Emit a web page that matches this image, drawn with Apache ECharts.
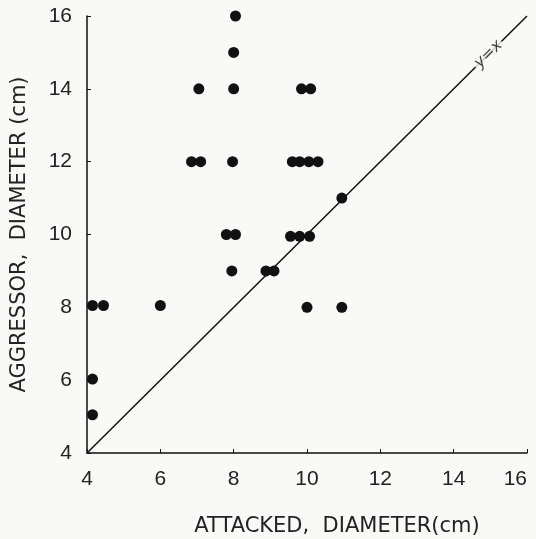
<!DOCTYPE html>
<html>
<head>
<meta charset="utf-8">
<script src="https://cdn.jsdelivr.net/npm/echarts@6/dist/echarts.min.js"></script>
<style>
  html, body { margin: 0; padding: 0; background: #f9f9f7; }
  #main { width: 536px; height: 539px; }
</style>
</head>
<body>
<div id="main"></div>
<script>
// attacked diameter (x) vs aggressor diameter (y), cm
var attacked = [8.05, 8, 7.05, 8, 9.85, 10.1,
                6.85, 7.1, 7.97, 9.6, 9.8, 10.05, 10.3,
                10.95,
                7.8, 8.05, 9.55, 9.8, 10.07,
                7.95, 8.88, 9.1,
                4.15, 4.45, 6.0, 10.0, 10.95,
                4.15, 4.15];
var aggressor = [16, 15, 14, 14, 14, 14,
                 12, 12, 12, 12, 12, 12, 12,
                 11,
                 10, 10, 9.95, 9.95, 9.95,
                 9, 9, 9,
                 8.05, 8.05, 8.05, 8, 8,
                 6.03, 5.05];
var diagonal = [[4, 4], [16, 16]];
var diagLabelAt = [14.95, 14.95];
var axisTicks = [4, 6, 8, 10, 12, 14, 16];

var bg = '#f9f9f7';
var ink = '#111111';
var font = 'DejaVu Sans';
var numFont = 'Liberation Sans';

var points = [];
for (var i = 0; i < attacked.length; i++) {
    points.push([attacked[i], aggressor[i]]);
}

var chart = echarts.init(document.getElementById('main'));
var option = {
    backgroundColor: bg,
    animation: false,
    grid: { left: 87, right: 9, top: 16, bottom: 86, outerBoundsMode: 'none', containLabel: false },
    xAxis: {
        type: 'value',
        min: axisTicks[0],
        max: axisTicks[axisTicks.length - 1],
        interval: 2,
        name: 'ATTACKED,  DIAMETER(cm)',
        nameLocation: 'middle',
        nameGap: 63,
        nameTextStyle: { color: '#222', fontFamily: font, fontSize: 21, padding: [0, 0, 0, 60] },
        axisLine: { lineStyle: { color: ink, width: 1.5 } },
        axisTick: { inside: true, length: 4, lineStyle: { color: ink } },
        axisLabel: { color: '#222', fontFamily: numFont, fontSize: 21, margin: 16, alignMaxLabel: 'right' },
        splitLine: { show: false }
    },
    yAxis: {
        type: 'value',
        min: axisTicks[0],
        max: axisTicks[axisTicks.length - 1],
        interval: 2,
        name: 'AGGRESSOR,  DIAMETER (cm)',
        nameLocation: 'middle',
        nameGap: 57,
        nameTextStyle: { color: '#222', fontFamily: font, fontSize: 21 },
        axisLine: { lineStyle: { color: ink, width: 1.5 } },
        axisTick: { inside: true, length: 4, lineStyle: { color: ink } },
        axisLabel: { color: '#222', fontFamily: numFont, fontSize: 21, margin: 15 },
        splitLine: { show: false }
    },
    series: [
        {
            type: 'line',
            data: diagonal,
            symbol: 'none',
            silent: true,
            lineStyle: { color: ink, width: 1.5 },
            z: 1
        },
        {
            type: 'scatter',
            data: [diagLabelAt],
            symbolSize: 0,
            silent: true,
            label: {
                show: true,
                position: 'inside',
                formatter: 'y=x',
                rotate: 45,
                color: ink,
                fontFamily: font,
                fontStyle: 'italic',
                fontSize: 16,
                backgroundColor: bg,
                padding: [0, 2]
            },
            z: 3
        },
        {
            type: 'scatter',
            data: points,
            symbol: 'circle',
            symbolSize: 11,
            itemStyle: { color: ink, opacity: 1 },
            z: 4
        }
    ]
};
chart.setOption(option);
</script>
</body>
</html>
